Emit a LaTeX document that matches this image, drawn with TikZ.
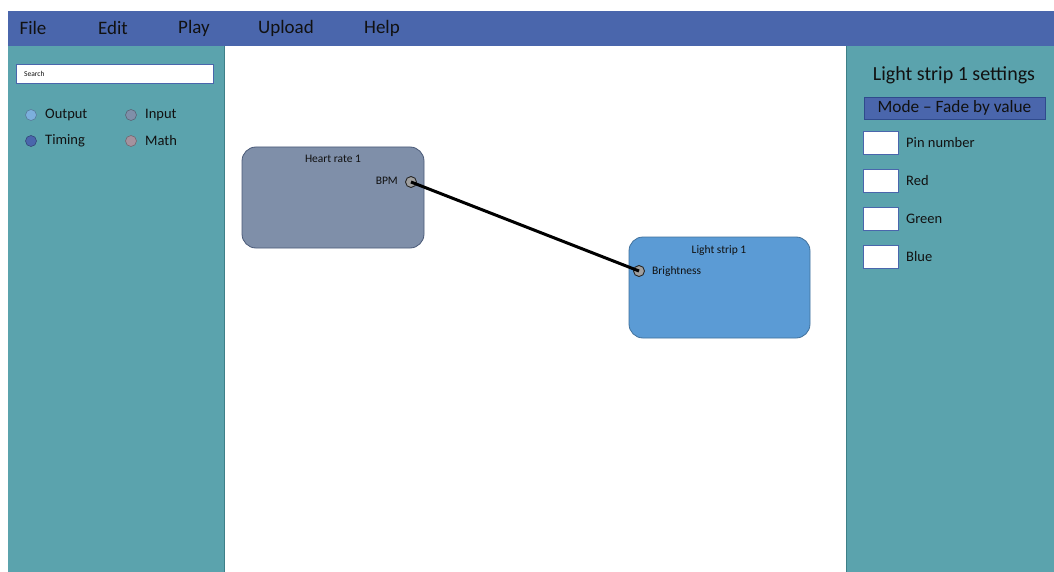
\documentclass[tikz,border=0pt]{standalone}
\usepackage{fontspec}
\setmainfont{Carlito}
\definecolor{barblue}{HTML}{4A66AC}
\definecolor{teal}{HTML}{5BA3AD}
\definecolor{tealedge}{HTML}{3E7F88}
\definecolor{hrfill}{HTML}{7F8FA9}
\definecolor{hredge}{HTML}{4A5A78}
\definecolor{lsfill}{HTML}{5B9BD5}
\definecolor{lsedge}{HTML}{41719C}
\definecolor{mathdot}{HTML}{A4929E}
\definecolor{modeedge}{HTML}{2F4A8C}
\definecolor{txt}{HTML}{111111}
\begin{document}
\begin{tikzpicture}[x=1pt,y=-1pt,
  menu/.style={font=\fontsize{19}{22}\selectfont, text=txt, anchor=center},
  legend/.style={font=\fontsize{14.5}{17}\selectfont, text=txt, anchor=west, inner sep=0pt},
  dot/.style={circle, minimum size=11pt, inner sep=0pt, draw=#1!70!black, fill=#1, line width=0.6pt},
  blockbox/.style={rounded corners=14pt, line width=0.8pt},
  port/.style={circle, minimum size=11pt, inner sep=0pt, fill=gray!75, draw=black!85, line width=0.9pt},
  small/.style={font=\fontsize{11.5}{13}\selectfont, text=txt, inner sep=0pt},
  field/.style={draw=barblue, fill=white, line width=0.8pt, minimum width=35pt, minimum height=23pt, inner sep=0pt, anchor=north west},
  fieldlabel/.style={font=\fontsize{14.5}{17}\selectfont, text=txt, anchor=west, inner sep=0pt}
]
\useasboundingbox (0,0) rectangle (1054,572);
\fill[white] (0,0) rectangle (1054,572);
% panels
\fill[teal] (8,46) rectangle (224,572);
\draw[tealedge, line width=0.8pt] (224,46) -- (224,572);
\fill[teal] (846,46) rectangle (1054,572);
\draw[tealedge, line width=0.8pt] (846,46) -- (846,572);
% top bar
\fill[barblue] (8,11) rectangle (1054,46);
\node[menu] (mfile) at (33,28) {File};
\node[menu] (medit) at (113,28) {Edit};
\node[menu] (mplay) at (194,28) {Play};
\node[menu] (mupload) at (286,28) {Upload};
\node[menu] (mhelp) at (382,28) {Help};
% search
\node[draw=barblue, fill=white, line width=0.8pt, minimum width=197pt, minimum height=19pt, anchor=north west, inner sep=0pt] (search) at (16,64) {};
\node[font=\fontsize{7.5}{9}\selectfont, text=txt, anchor=west, inner sep=0pt] (searchtxt) at (24,73.5) {Search};
% legend
\node[dot=lsfill!80!white] (doutput) at (31,115) {};
\node[legend] (loutput) at (45,115) {Output};
\node[dot=hrfill] (dinput) at (131,115) {};
\node[legend] (linput) at (145,115) {Input};
\node[dot=barblue] (dtiming) at (31,141) {};
\node[legend] (ltiming) at (45,141) {Timing};
\node[dot=mathdot] (dmath) at (131,141) {};
\node[legend] (lmath) at (145,141) {Math};
% blocks
\draw[blockbox, fill=hrfill, draw=hredge] (242,147) rectangle (424,248);
\node[small] (hrtitle) at (333,159) {Heart rate 1};
\node[small, anchor=east] (bpm) at (398,181) {BPM};
\draw[blockbox, fill=lsfill, draw=lsedge] (629,237) rectangle (810,338);
\node[small] (lstitle) at (719,250) {Light strip 1};
\node[small, anchor=west] (bright) at (652,271) {Brightness};
\node[port] (pout) at (411,182) {};
\node[port] (pin) at (639,271) {};
\draw[black, line width=3pt] (pout.center) -- (pin.center);
% settings panel
\node[font=\fontsize{20}{23}\selectfont, text=txt] (settings) at (954,75) {Light strip 1 settings};
\node[draw=modeedge, fill=barblue, line width=0.8pt, minimum width=181pt, minimum height=22pt, inner sep=0pt, anchor=north west] (mode) at (864,97) {};
\node[font=\fontsize{17.3}{20}\selectfont, text=txt] (modetxt) at (954.5,108) {Mode -- Fade by value};
\node[field] (fpin) at (863,131) {};
\node[fieldlabel] (lpin) at (906,142.5) {Pin number};
\node[field] (fred) at (863,169) {};
\node[fieldlabel] (lred) at (906,180.5) {Red};
\node[field] (fgreen) at (863,207) {};
\node[fieldlabel] (lgreen) at (906,218.5) {Green};
\node[field] (fblue) at (863,245) {};
\node[fieldlabel] (lblue) at (906,256.5) {Blue};
\end{tikzpicture}
\end{document}
